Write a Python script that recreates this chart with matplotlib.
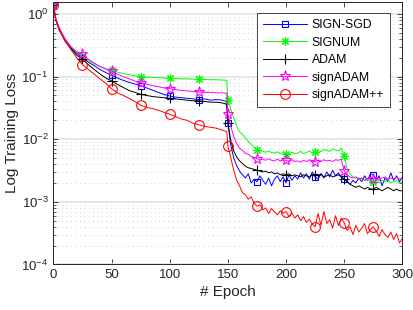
import numpy as np
import matplotlib as mpl
mpl.use('Agg')
from matplotlib import pyplot as plt
from matplotlib.ticker import LogLocator, NullFormatter

plt.rcParams['font.family'] = ['Liberation Sans', 'DejaVu Sans']
plt.rcParams['mathtext.fontset'] = 'custom'
plt.rcParams['mathtext.rm'] = 'Liberation Sans'
plt.rcParams['mathtext.it'] = 'Liberation Sans:italic'

# epochs: sparse before the lr drop, denser after it
epochs = [0, 2] + list(range(5, 150, 5)) + [149] + [150 + 2.5 * i for i in range(61)]

pre_sgd = [1.4, 0.83, 0.58, 0.39, 0.29, 0.235, 0.2, 0.17, 0.15, 0.13, 0.116, 0.105, 0.095, 0.087,
           0.081, 0.076, 0.072, 0.066, 0.061, 0.056, 0.052, 0.049, 0.047, 0.046, 0.045, 0.044,
           0.043, 0.044, 0.042, 0.043, 0.042, 0.040]
post_sgd = [0.018, 0.008, 0.005, 0.0038, 0.0031, 0.0027, 0.0024, 0.0028, 0.002, 0.0023, 0.0021,
            0.0026, 0.0022, 0.0019, 0.0024, 0.0018, 0.0023, 0.0026, 0.0021, 0.0025, 0.0020,
            0.0027, 0.0022, 0.0026, 0.0023, 0.0029, 0.0024, 0.0028, 0.0023, 0.0030, 0.0025,
            0.0023, 0.0028, 0.0024, 0.0030, 0.0025, 0.0032, 0.0026, 0.0029, 0.0025, 0.0023,
            0.0021, 0.0019, 0.0022, 0.0020, 0.0024, 0.0021, 0.0026, 0.0022, 0.0028, 0.0027,
            0.0022, 0.0026, 0.0018, 0.0024, 0.0021, 0.0029, 0.0022, 0.0026, 0.0021, 0.0025]

pre_signum = [1.4, 0.85, 0.6, 0.4, 0.3, 0.245, 0.21, 0.18, 0.16, 0.145, 0.134, 0.126, 0.118, 0.112,
              0.107, 0.103, 0.100, 0.098, 0.097, 0.096, 0.095, 0.094, 0.093, 0.092, 0.092, 0.091,
              0.091, 0.090, 0.089, 0.089, 0.088, 0.087]
post_signum = [0.043, 0.03, 0.022, 0.016, 0.013, 0.012, 0.0105, 0.0092, 0.0082, 0.0075, 0.0068,
               0.0066, 0.0064, 0.0062, 0.0065, 0.0061, 0.0060, 0.0063, 0.0059, 0.0061, 0.0059,
               0.0058, 0.0062, 0.0059, 0.0060, 0.0064, 0.0059, 0.0061, 0.0065, 0.0060, 0.0062,
               0.0066, 0.0063, 0.0069, 0.0066, 0.0064, 0.0070, 0.0067, 0.0065, 0.0072, 0.0053,
               0.0034, 0.0028, 0.0025, 0.0024, 0.0023, 0.0024, 0.0022, 0.0023, 0.0021, 0.0021,
               0.0022, 0.0020, 0.0022, 0.0021, 0.0023, 0.0020, 0.0021, 0.0022, 0.0020, 0.0021]

pre_adam = [1.4, 0.82, 0.56, 0.37, 0.28, 0.22, 0.19, 0.155, 0.13, 0.11, 0.095, 0.085, 0.075, 0.067,
            0.06, 0.056, 0.052, 0.05, 0.048, 0.047, 0.046, 0.045, 0.044, 0.043, 0.042, 0.041,
            0.041, 0.040, 0.039, 0.039, 0.038, 0.036]
post_adam = [0.018, 0.0095, 0.0065, 0.0052, 0.0045, 0.0041, 0.0037, 0.0035, 0.0034, 0.0033, 0.0032,
             0.0031, 0.0030, 0.0031, 0.0029, 0.0030, 0.0028, 0.0029, 0.0027, 0.0028, 0.0027,
             0.0028, 0.0026, 0.0027, 0.0026, 0.0025, 0.0027, 0.0026, 0.0025, 0.0027, 0.0027,
             0.0026, 0.0028, 0.0025, 0.0026, 0.0027, 0.0025, 0.0026, 0.0027, 0.0025, 0.0023,
             0.0021, 0.0019, 0.0018, 0.0017, 0.0018, 0.0017, 0.0016, 0.0017, 0.0016, 0.0016,
             0.0017, 0.0016, 0.0015, 0.0016, 0.0017, 0.0016, 0.0015, 0.0016, 0.0015, 0.0015]

pre_signadam = [1.4, 0.85, 0.6, 0.4, 0.3, 0.25, 0.23, 0.19, 0.165, 0.145, 0.132, 0.123, 0.11, 0.1,
                0.092, 0.085, 0.08, 0.076, 0.072, 0.069, 0.066, 0.064, 0.062, 0.060, 0.059, 0.058,
                0.057, 0.056, 0.056, 0.055, 0.055, 0.054]
post_signadam = [0.025, 0.016, 0.011, 0.0085, 0.0072, 0.0066, 0.006, 0.0057, 0.0053, 0.0051, 0.0049,
                 0.0047, 0.0048, 0.0046, 0.0049, 0.0046, 0.0045, 0.0048, 0.0045, 0.0047, 0.0046,
                 0.0044, 0.0047, 0.0044, 0.0045, 0.0043, 0.0046, 0.0044, 0.0047, 0.0044, 0.0044,
                 0.0046, 0.0044, 0.0047, 0.0045, 0.0046, 0.0044, 0.0047, 0.0046, 0.0048, 0.0031,
                 0.0027, 0.0025, 0.0024, 0.0025, 0.0023, 0.0024, 0.0022, 0.0024, 0.0023, 0.0023,
                 0.0024, 0.0022, 0.0024, 0.0025, 0.0023, 0.0024, 0.0023, 0.0025, 0.0023, 0.0024]

pre_signadampp = [1.4, 0.8, 0.55, 0.37, 0.27, 0.2, 0.155, 0.13, 0.11, 0.092, 0.078, 0.064, 0.055,
                  0.05, 0.045, 0.04, 0.035, 0.032, 0.031, 0.029, 0.027, 0.025, 0.023, 0.021, 0.02,
                  0.018, 0.017, 0.016, 0.0155, 0.015, 0.014, 0.0132]
post_signadampp = [0.0077, 0.005, 0.0032, 0.0022, 0.0018, 0.0014, 0.0013, 0.0011, 0.0012, 0.00095,
                   0.00085, 0.0009, 0.00075, 0.0008, 0.00065, 0.00078, 0.0007, 0.00062, 0.00072,
                   0.00066, 0.0007, 0.00058, 0.00066, 0.00055, 0.00062, 0.0005, 0.00058, 0.00047,
                   0.00053, 0.00044, 0.0004, 0.00065, 0.00042, 0.0007, 0.00045, 0.00052, 0.00038,
                   0.0006, 0.00042, 0.00055, 0.00046, 0.00035, 0.0004, 0.0003, 0.00042, 0.00033,
                   0.00038, 0.00045, 0.00031, 0.00036, 0.0004, 0.00034, 0.00028, 0.00036, 0.0003,
                   0.00027, 0.00033, 0.00025, 0.00031, 0.00022, 0.00026]

labels = ['SIGN-SGD', 'SIGNUM', 'ADAM', 'signADAM', 'signADAM++']
series = [pre_sgd + post_sgd, pre_signum + post_signum, pre_adam + post_adam,
          pre_signadam + post_signadam, pre_signadampp + post_signadampp]
colors = ['#0000ff', '#00ff00', '#000000', '#ff00ff', '#ff0000']
markers = ['s', (8, 2, 0), '+', '*', 'o']
msizes = [5, 6, 7, 8, 7]

mark_idx = [epochs.index(e) for e in range(0, 300, 25)]

fig = plt.figure(figsize=(4.14, 3.10), dpi=100)
ax = fig.add_axes([0.129, 0.147, 0.843, 0.847])

for y, lab, c, m, ms in zip(series, labels, colors, markers, msizes):
    ax.semilogy(epochs, y, color=c, lw=0.7, marker=m, ms=ms, mfc='none', mec=c, mew=0.8,
                markevery=mark_idx, label=lab)

ax.set_xlim(0, 300)
ax.set_ylim(1e-4, 1.56)
ax.set_xticks([0, 50, 100, 150, 200, 250, 300])
ax.yaxis.set_major_locator(LogLocator(base=10, numticks=10))
ax.yaxis.set_minor_locator(LogLocator(base=10, subs=np.arange(2, 10), numticks=20))
ax.yaxis.set_minor_formatter(NullFormatter())

ax.grid(True, which='major', axis='y', color='#e3e3e3', lw=1.2, ls='-')
ax.grid(True, which='minor', axis='y', color='#b5b5b5', lw=0.6, ls=(0, (0.8, 4.5)))
ax.set_axisbelow(True)

dark = '#262626'
for s in ax.spines.values():
    s.set_color(dark)
    s.set_linewidth(0.7)
ax.tick_params(which='both', direction='in', top=True, right=True, colors=dark, labelsize=9.5)
ax.tick_params(which='major', length=3.5, width=0.6)
ax.tick_params(which='minor', length=2, width=0.5)

ax.set_xlabel('# Epoch', fontsize=11, color=dark, labelpad=3)
ax.set_ylabel('Log Training Loss', fontsize=11, color=dark, labelpad=2)

leg = ax.legend(loc='upper right', bbox_to_anchor=(0.965, 0.957), borderaxespad=0, fontsize=8.8,
                fancybox=False, framealpha=1, edgecolor=dark, handlelength=3.6,
                labelspacing=0.45, borderpad=0.5, handletextpad=0.4)
leg.get_frame().set_linewidth(0.6)

fig.savefig('out.png', dpi=100)
